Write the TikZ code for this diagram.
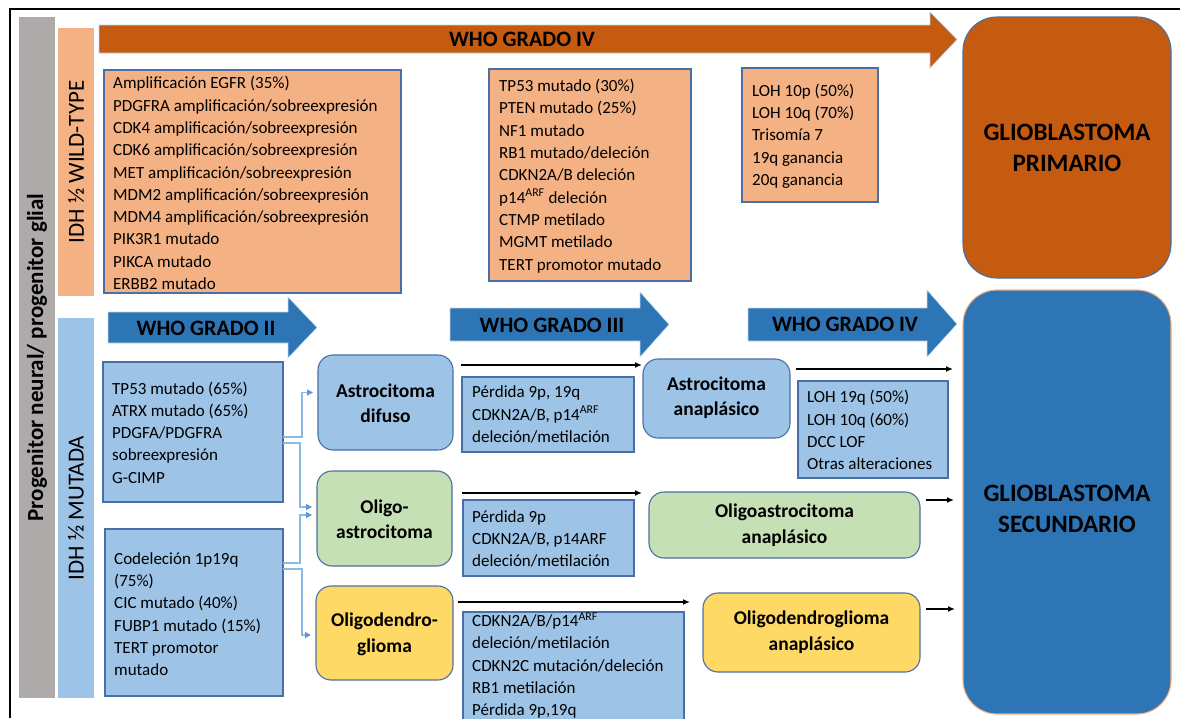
\documentclass[tikz,border=0pt]{standalone}
\usepackage{fontspec}
\setmainfont{Carlito}
\usetikzlibrary{arrows.meta}
\definecolor{orgD}{HTML}{C55A11}
\definecolor{orgL}{HTML}{F4B183}
\definecolor{bluD}{HTML}{2E75B6}
\definecolor{bluL}{HTML}{9DC3E6}
\definecolor{grnL}{HTML}{C5E0B4}
\definecolor{yelL}{HTML}{FFD966}
\definecolor{gryB}{HTML}{AEAAAA}
\definecolor{edgeC}{HTML}{4A6FA5}
\definecolor{connC}{HTML}{8DB8E4}
\definecolor{connH}{HTML}{5B9BD5}
\tikzset{
  bar/.style={draw=none, inner sep=0pt, outer sep=0pt},
  sq/.style={draw=edgeC, line width=1.1pt, inner sep=0pt, outer sep=0pt},
  rbox/.style={draw=edgeC, line width=1.1pt, rounded corners=15pt, inner sep=0pt, outer sep=0pt},
  gbox/.style={line width=1.1pt, rounded corners=34pt, inner sep=0pt, outer sep=0pt},
  lst/.style={align=left, inner sep=0pt, anchor=west, font=\fontsize{17}{22.3}\selectfont},
  ttl/.style={align=center, inner sep=0pt, font=\bfseries\fontsize{19.5}{25.5}\selectfont},
  gttl/.style={align=center, inner sep=0pt, font=\bfseries\fontsize{25}{30.5}\selectfont},
  who/.style={inner sep=0pt, font=\bfseries\fontsize{22}{26}\selectfont},
  side/.style={inner sep=0pt, rotate=90, font=\fontsize{23}{26}\selectfont},
  barrow/.style={fill=bluD, draw=bluL!60, line width=0.6pt},
  oarrow/.style={fill=orgD, draw=bluL!70, line width=0.6pt},
  blk/.style={line width=1.4pt, -{Latex[length=7pt,width=6pt]}},
  cn/.style={draw=connC, line width=1.2pt, -{Triangle[length=6pt,width=6pt,fill=connH,color=connH]}}
}
\begin{document}
\begin{tikzpicture}[x=1pt,y=-1pt]
\clip (0,0) rectangle (1180,718);
\fill[white] (0,0) rectangle (1180,718);
% outer frame
\draw[line width=1.6pt] (10,718) -- (10,9) -- (1180,9);

% side bars
\node[bar, fill=gryB, minimum width=36pt, minimum height=681pt] (prog) at (37,357.5) {};
\node[side, font=\bfseries\fontsize{23}{26}\selectfont] at (prog.center) {Progenitor neural/ progenitor glial};
\node[bar, fill=orgL, minimum width=36pt, minimum height=268pt] (wild) at (76,162) {};
\node[side] at (wild.center) {IDH ½ WILD-TYPE};
\node[bar, fill=bluL, minimum width=36pt, minimum height=380pt] (mut) at (76,508) {};
\node[side] at (mut.center) {IDH ½ MUTADA};

% top orange arrow
\draw[oarrow] (99,25) -- (930,25) -- (930,12) -- (957,39.5) -- (930,68) -- (930,53) -- (99,53) -- cycle;
\node[who] (who4a) at (522,39) {WHO GRADO IV};

% blue arrows
\draw[barrow] (108,312) -- (288,312) -- (288,297) -- (317,327.5) -- (288,358) -- (288,343) -- (108,343) -- cycle;
\node[who] (who2) at (206,328) {WHO GRADO II};
\draw[barrow] (450,308) -- (640,308) -- (640,292) -- (669,324.5) -- (640,357) -- (640,341) -- (450,341) -- cycle;
\node[who] (who3) at (552,325) {WHO GRADO III};
\draw[barrow] (748,308) -- (927,308) -- (927,290) -- (957,324) -- (927,357) -- (927,341) -- (748,341) -- cycle;
\node[who] (who4b) at (845,324) {WHO GRADO IV};

% orange boxes (wild type)
\node[sq, fill=orgL, minimum width=297pt, minimum height=223pt] (egfr) at (252.5,181.5) {};
\node[lst] at (113,183) {Amplificación EGFR (35\%)\\PDGFRA amplificación/sobreexpresión\\CDK4 amplificación/sobreexpresión\\CDK6 amplificación/sobreexpresión\\MET amplificación/sobreexpresión\\MDM2 amplificación/sobreexpresión\\MDM4 amplificación/sobreexpresión\\PIK3R1 mutado\\PIKCA mutado\\ERBB2 mutado};
\node[sq, fill=orgL, minimum width=202pt, minimum height=212pt] (tp53o) at (590,175) {};
\node[lst] at (499,176) {TP53 mutado (30\%)\\PTEN mutado (25\%)\\NF1 mutado\\RB1 mutado/deleción\\CDKN2A/B deleción\\p14\textsuperscript{ARF} deleción\\CTMP metilado\\MGMT metilado\\TERT promotor mutado};
\node[sq, fill=orgL, minimum width=136pt, minimum height=134pt] (lohp) at (810,135) {};
\node[lst] at (752,136) {LOH 10p (50\%)\\LOH 10q (70\%)\\Trisomía 7\\19q ganancia\\20q ganancia};

% glioblastomas
\node[gbox, draw=edgeC, fill=orgD, minimum width=208pt, minimum height=261pt] (gbp) at (1067,147.5) {};
\node[gttl] at (1067,148) {GLIOBLASTOMA\\PRIMARIO};
\node[gbox, draw=orgL, fill=bluD, minimum width=208pt, minimum height=424pt] (gbs) at (1067,502) {};
\node[gttl] at (1067,509) {GLIOBLASTOMA\\SECUNDARIO};

% mutated boxes
\node[sq, fill=bluL, minimum width=180pt, minimum height=140pt] (tp53m) at (193,432) {};
\node[lst] at (112,432.5) {TP53 mutado (65\%)\\ATRX mutado (65\%)\\PDGFA/PDGFRA\\sobreexpresión\\G-CIMP};
\node[sq, fill=bluL, minimum width=178pt, minimum height=167pt] (codel) at (194,612.5) {};
\node[lst] at (114,614) {Codeleción 1p19q\\(75\%)\\CIC mutado (40\%)\\FUBP1 mutado (15\%)\\TERT promotor\\mutado};

% grade II tumours
\node[rbox, fill=bluL, minimum width=135pt, minimum height=95pt] (astd) at (385.5,402.5) {};
\node[ttl] at (385.5,403) {Astrocitoma\\difuso};
\node[rbox, fill=grnL, minimum width=135pt, minimum height=95pt] (oligoa) at (384.5,518.5) {};
\node[ttl] at (384.5,519) {Oligo-\\astrocitoma};
\node[rbox, fill=yelL, minimum width=137pt, minimum height=94pt] (oligod) at (384.5,633) {};
\node[ttl] at (384.5,634.5) {Oligodendro-\\glioma};

% grade III alterations
\node[sq, fill=bluL, minimum width=172pt, minimum height=75pt] (per1) at (548,414.5) {};
\node[lst] at (472,414.5) {Pérdida 9p, 19q\\CDKN2A/B, p14\textsuperscript{ARF}\\deleción/metilación};
\node[sq, fill=bluL, minimum width=171pt, minimum height=76pt] (per2) at (548.5,538) {};
\node[lst] at (472,539) {Pérdida 9p\\CDKN2A/B, p14ARF\\deleción/metilación};
\node[sq, fill=bluL, minimum width=221pt, minimum height=128pt] (cdk) at (573.5,676) {};
\node[lst] at (472,665.5) {CDKN2A/B/p14\textsuperscript{ARF}\\deleción/metilación\\CDKN2C mutación/deleción\\RB1 metilación\\Pérdida 9p,19q};

% grade III tumours
\node[rbox, fill=bluL, minimum width=147pt, minimum height=79pt] (asta) at (716.5,398.5) {};
\node[ttl] at (716.5,397.5) {Astrocitoma\\anaplásico};
\node[sq, fill=bluL, minimum width=150pt, minimum height=97pt] (loh19) at (873,429.5) {};
\node[lst] at (807,430) {LOH 19q (50\%)\\LOH 10q (60\%)\\DCC LOF\\Otras alteraciones};
\node[rbox, fill=grnL, minimum width=271pt, minimum height=66pt] (oligoaa) at (784.5,525) {};
\node[ttl] at (784.5,525) {Oligoastrocitoma\\anaplásico};
\node[rbox, fill=yelL, minimum width=217pt, minimum height=79pt] (oligoda) at (811.5,632.5) {};
\node[ttl] at (811.5,632) {Oligodendroglioma\\anaplásico};

% light blue connectors
\draw[cn] ([yshift=-5pt]tp53m.east) -- ++(19,0) |- ([xshift=-5pt,yshift=10pt]astd.west);
\draw[cn] ([yshift=-11pt]tp53m.east) -- ++(17,0) |- ([xshift=-5pt,yshift=11.5pt]oligoa.west);
\draw[cn] ([yshift=49.5pt]codel.east) -- ++(17,0) |- ([xshift=-5pt,yshift=3.5pt]oligoa.west);
\draw[cn] ([yshift=43.5pt]codel.east) -- ++(19,0) |- ([xshift=-5pt,yshift=-2pt]oligod.west);

% black arrows
\draw[blk] ([xshift=8pt,yshift=37.5pt]astd.east) -- ([xshift=-1pt,yshift=33.5pt]asta.west);
\draw[blk] ([xshift=10pt,yshift=25.5pt]oligoa.east) -- ([xshift=-7pt,yshift=32pt]oligoaa.west);
\draw[blk] ([xshift=5pt,yshift=31pt]oligod.east) -- ([xshift=-13pt,yshift=30.5pt]oligoda.west);
\draw[blk] ([xshift=6pt,yshift=29.5pt]asta.east) -- ([xshift=-10pt,yshift=133pt]gbs.west);
\draw[blk] ([xshift=6pt,yshift=25pt]oligoaa.east) -- ([xshift=-9pt,yshift=2pt]gbs.west);
\draw[blk] ([xshift=6pt,yshift=23.5pt]oligoda.east) -- ([xshift=-8pt,yshift=-107pt]gbs.west);
\end{tikzpicture}
\end{document}
